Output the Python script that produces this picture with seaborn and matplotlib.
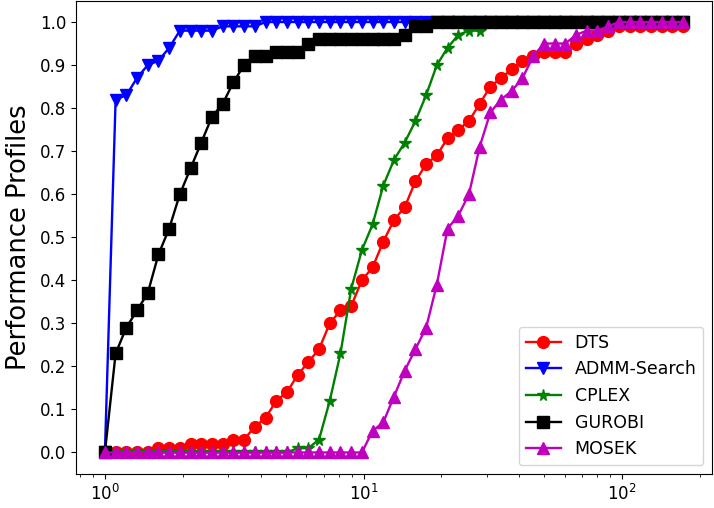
import matplotlib
matplotlib.use("Agg")
import matplotlib.pyplot as plt
import seaborn as sns
import pandas as pd

# performance-profile grid (tau values)
tau = [1.0, 1.1, 1.21, 1.331, 1.4641, 1.6105, 1.7716, 1.9487, 2.1436, 2.3579,
       2.5937, 2.8531, 3.1384, 3.4523, 3.7975, 4.1772, 4.595, 5.0545, 5.5599, 6.1159,
       6.7275, 7.4002, 8.1403, 8.9543, 9.8497, 10.8347, 11.9182, 13.11, 14.421, 15.8631,
       17.4494, 19.1943, 21.1138, 23.2252, 25.5477, 28.1024, 30.9127, 34.0039, 37.4043, 41.1448,
       45.2593, 49.7852, 54.7637, 60.2401, 66.2641, 72.8905, 80.1795, 88.1975, 97.0172, 106.7190,
       117.3909, 129.1299, 142.0429, 156.2472, 171.8719]

dts = [0, 0, 0, 0, 0, 0.01, 0.01, 0.01, 0.02, 0.02,
       0.02, 0.02, 0.03, 0.03, 0.06, 0.08, 0.12, 0.14, 0.18, 0.21,
       0.24, 0.30, 0.33, 0.34, 0.40, 0.43, 0.49, 0.54, 0.57, 0.63,
       0.67, 0.69, 0.73, 0.75, 0.77, 0.81, 0.85, 0.87, 0.89, 0.91,
       0.92, 0.93, 0.93, 0.93, 0.95, 0.96, 0.97, 0.98, 0.99, 0.99,
       0.99, 0.99, 0.99, 0.99, 0.99]

admm = [0, 0.82, 0.83, 0.87, 0.90, 0.91, 0.94, 0.98, 0.98, 0.98,
        0.98, 0.99, 0.99, 0.99, 0.99, 1, 1, 1, 1, 1,
        1, 1, 1, 1, 1, 1, 1, 1, 1, 1,
        1, 1, 1, 1, 1, 1, 1, 1, 1, 1,
        1, 1, 1, 1, 1, 1, 1, 1, 1, 1,
        1, 1, 1, 1, 1]

cplex = [0, 0, 0, 0, 0, 0, 0, 0, 0, 0,
         0, 0, 0, 0, 0, 0, 0, 0, 0.01, 0.01,
         0.03, 0.12, 0.23, 0.38, 0.47, 0.53, 0.62, 0.68, 0.72, 0.77,
         0.83, 0.90, 0.94, 0.97, 0.98, 0.98, 1, 1, 1, 1,
         1, 1, 1, 1, 1, 1, 1, 1, 1, 1,
         1, 1, 1, 1, 1]

gurobi = [0, 0.23, 0.29, 0.33, 0.37, 0.46, 0.52, 0.60, 0.66, 0.72,
          0.78, 0.81, 0.86, 0.90, 0.92, 0.92, 0.93, 0.93, 0.93, 0.95,
          0.96, 0.96, 0.96, 0.96, 0.96, 0.96, 0.96, 0.96, 0.97, 0.99,
          0.99, 1, 1, 1, 1, 1, 1, 1, 1, 1,
          1, 1, 1, 1, 1, 1, 1, 1, 1, 1,
          1, 1, 1, 1, 1]

mosek = [0, 0, 0, 0, 0, 0, 0, 0, 0, 0,
         0, 0, 0, 0, 0, 0, 0, 0, 0, 0,
         0, 0, 0, 0, 0, 0.05, 0.07, 0.13, 0.19, 0.24,
         0.29, 0.39, 0.52, 0.55, 0.60, 0.71, 0.79, 0.82, 0.84, 0.87,
         0.92, 0.95, 0.95, 0.95, 0.97, 0.98, 0.98, 0.99, 1, 1,
         1, 1, 1, 1, 1]

names = ["DTS", "ADMM-Search", "CPLEX", "GUROBI", "MOSEK"]
series = [dts, admm, cplex, gurobi, mosek]
colors = ["r", "b", "g", "k", "m"]
markers = ["o", "v", "*", "s", "^"]

fig = plt.figure(figsize=(7.14, 5.08), dpi=100)
ax = fig.add_axes([76 / 714, 1 - 474 / 508, (712 - 76) / 714, (474 - 0.5) / 508])

for name, vals, c, m in zip(names, series, colors, markers):
    df = pd.DataFrame({"tau": tau, "p": vals})
    sns.lineplot(data=df, x="tau", y="p", ax=ax, color=c, marker=m,
                 markersize=8.5, markeredgecolor=c, markeredgewidth=1,
                 linewidth=1.7, label=name, sort=False, estimator=None)

ax.set_xscale("log")
ax.set_yticks([i / 10 for i in range(11)])
ax.set_ylabel("Performance Profiles", fontsize=18.5, labelpad=6)
ax.set_xlabel("")
ax.tick_params(labelsize=12)
ax.legend(loc="lower right", fontsize=12.5)

fig.savefig("out.png", dpi=100)
